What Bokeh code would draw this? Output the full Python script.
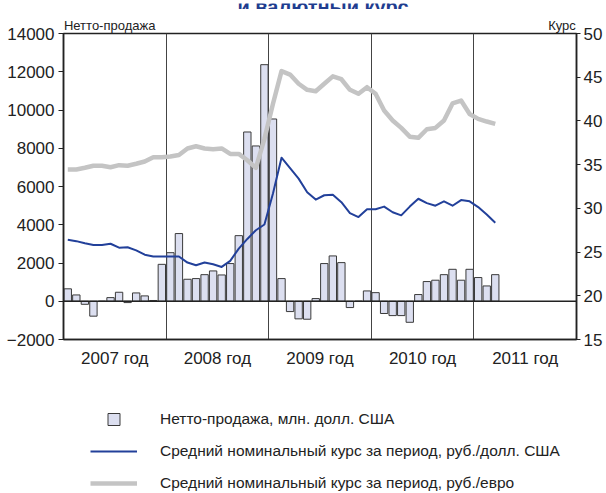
from bokeh.plotting import figure
from bokeh.layouts import column
from bokeh.models import (Range1d, LinearAxis, FixedTicker, Span,
                          Legend, LegendItem, ColumnDataSource)
from bokeh.core.properties import value
from bokeh.embed import file_html
from bokeh.resources import INLINE

# ---------------- data ----------------
title_tail = "и валютный курс"
years = ["2007 год", "2008 год", "2009 год", "2010 год", "2011 год"]

net_sales = [  # млн. долл. США, monthly from Jan 2007
    650, 330, -160, -780, 0, 190, 470, -70, 435, 280, 40, 1930,
    2540, 3540, 1150, 1185, 1390, 1585, 1375, 1970, 3430, 8850, 8120, 12370,
    9530, 1185, -540, -920, -940, 140, 1970, 2370, 2020, -330, 0, 540,
    450, -640, -750, -750, -1100, 350, 1030, 1100, 1390, 1670, 1100, 1670,
    1240, 800, 1390,
]
usd_rate = [
    26.4, 26.25, 26.0, 25.8, 25.8, 25.95, 25.5, 25.55, 25.2, 24.7, 24.5, 24.5,
    24.5, 24.5, 23.8, 23.5, 23.8, 23.6, 23.3, 24.0, 25.4, 26.5, 27.5, 28.15,
    31.7, 35.8, 34.6, 33.4, 31.85, 31.0, 31.5, 31.55, 30.7, 29.45, 29.0, 29.9,
    29.9, 30.2, 29.55, 29.2, 30.2, 31.1, 30.6, 30.3, 30.8, 30.3, 30.95, 30.8,
    30.15, 29.3, 28.35,
]
eur_rate = [
    34.45, 34.45, 34.64, 34.87, 34.87, 34.7, 34.94, 34.87, 35.1, 35.36, 35.85, 35.85,
    35.93, 36.1, 36.85, 37.1, 36.85, 36.77, 36.85, 36.23, 36.23, 35.5, 34.64, 37.95,
    41.96, 45.7, 45.3, 44.25, 43.56, 43.4, 44.25, 45.1, 44.77, 43.56, 43.1, 43.86,
    43.1, 41.2, 40.05, 39.2, 38.2, 38.07, 39.05, 39.2, 40.05, 42.0, 42.33, 40.8,
    40.24, 39.93, 39.67,
]
left_ticks = [-2000, 0, 2000, 4000, 6000, 8000, 10000, 12000, 14000]
right_ticks = [15, 20, 25, 30, 35, 40, 45, 50]

axis_captions = ["Нетто-продажа", "Курс"]
legend_labels = [
    "Нетто-продажа, млн. долл. США",
    "Средний номинальный курс за период, руб./долл. США",
    "Средний номинальный курс за период, руб./евро",
]

# ---------------- styles ----------------
FONT = "Liberation Sans"
BAR_FILL = "#dcdff0"
BAR_LINE = "#3a3a3a"
BLUE = "#22409a"
TITLE_BLUE = "#1f3d8f"
GRAY = "#c4c4c4"
DARK = "#222222"
W = 606


def bare(fig):
    fig.outline_line_color = None
    fig.grid.visible = False
    fig.background_fill_color = "white"
    fig.border_fill_color = "white"


# ---------------- title strip (only the lower edge of the title shows) ----------------
ts = figure(width=W, height=9, output_backend="svg", toolbar_location=None,
            x_axis_type=None, y_axis_type=None, min_border=0,
            x_range=Range1d(0, 1), y_range=Range1d(0, 9))
bare(ts)
ts.text(x=[0.506], y=[6], text=[title_tail], text_align="center",
        text_baseline="alphabetic", text_font=value(FONT), text_font_style="bold",
        text_font_size="20px", text_color=TITLE_BLUE)

# ---------------- main chart ----------------
n_months = len(years) * 12
x = [i + 0.5 for i in range(len(net_sales))]
src = ColumnDataSource(dict(x=x, sales=net_sales, usd=usd_rate, eur=eur_rate))

p = figure(width=W, height=381, output_backend="svg", toolbar_location=None,
           x_range=Range1d(0, n_months), y_range=Range1d(left_ticks[0], left_ticks[-1]),
           min_border_left=63, min_border_right=30, min_border_top=24,
           min_border_bottom=51)
p.extra_y_ranges = {"rate": Range1d(right_ticks[0], right_ticks[-1])}

p.background_fill_color = "white"
p.border_fill_color = "white"
p.outline_line_color = DARK
p.outline_line_width = 1.5
p.ygrid.visible = False

# year separators as x grid
p.xgrid.ticker = FixedTicker(ticks=[12 * k for k in range(1, len(years))])
p.xgrid.grid_line_color = "#444444"
p.xgrid.grid_line_width = 1

# bottom axis: year labels
bottom = p.below[0]
bottom.ticker = FixedTicker(ticks=[12 * k + 6 for k in range(len(years))])
bottom.major_label_overrides = {12 * k + 6: years[k] for k in range(len(years))}
bottom.major_tick_out = 0
bottom.major_tick_in = 0
bottom.minor_tick_out = 0
bottom.minor_tick_in = 0
bottom.major_label_standoff = 9

# left axis
leftax = p.left[0]
leftax.ticker = FixedTicker(ticks=left_ticks)
leftax.major_tick_out = 5
leftax.major_tick_in = 0
leftax.minor_tick_out = 0
leftax.minor_tick_in = 0
leftax.major_label_standoff = 4
leftax.formatter.use_scientific = False

right = LinearAxis(y_range_name="rate", ticker=FixedTicker(ticks=right_ticks))
right.major_tick_out = 4
right.major_tick_in = 0
right.minor_tick_out = 0
right.minor_tick_in = 0
right.major_label_standoff = 3
p.add_layout(right, "right")

for ax in [bottom, leftax, right]:
    ax.major_label_text_font = FONT
    ax.major_label_text_font_size = "17px"
    ax.major_label_text_color = DARK
    ax.major_tick_line_color = DARK
    ax.axis_line_color = DARK
    ax.axis_line_width = 1.5

# captions above the frame, as an axis with two labelled ticks
cap_pos = [5.4, 58.3]
top = LinearAxis(ticker=FixedTicker(ticks=cap_pos),
                 major_label_overrides={cap_pos[i]: axis_captions[i] for i in range(2)})
top.axis_line_color = None
top.major_tick_line_color = None
top.minor_tick_line_color = None
top.major_tick_out = 0
top.major_tick_in = 0
top.minor_tick_out = 0
top.minor_tick_in = 0
top.major_label_standoff = 1
top.major_label_text_font = FONT
top.major_label_text_font_size = "13px"
top.major_label_text_color = DARK
p.add_layout(top, "above")

# glyphs
p.vbar(x="x", top="sales", bottom=0, width=0.86, source=src,
       fill_color=BAR_FILL, line_color=BAR_LINE, line_width=1)
p.add_layout(Span(location=0, dimension="width", line_color=DARK, line_width=1.5))
p.line(x="x", y="eur", source=src, y_range_name="rate",
       line_color=GRAY, line_width=4.5, line_join="round")
p.line(x="x", y="usd", source=src, y_range_name="rate",
       line_color=BLUE, line_width=2, line_join="round")

# ---------------- legend panel ----------------
lg = figure(width=W, height=102, output_backend="svg", toolbar_location=None,
            x_axis_type=None, y_axis_type=None, min_border=0,
            x_range=Range1d(0, 1), y_range=Range1d(0, 1))
bare(lg)

# swatch renderers (their single point lies outside the visible ranges)
sw_bar = lg.scatter(x=[-5], y=[-5], marker="square", size=12,
                    fill_color=BAR_FILL, line_color=BAR_LINE, line_width=1)
sw_usd = lg.line(x=[-5, -4], y=[-5, -5], line_color=BLUE, line_width=2)
sw_eur = lg.line(x=[-5, -4], y=[-5, -5], line_color=GRAY, line_width=4.5)

legend = Legend(items=[LegendItem(label=legend_labels[0], renderers=[sw_bar]),
                       LegendItem(label=legend_labels[1], renderers=[sw_usd]),
                       LegendItem(label=legend_labels[2], renderers=[sw_eur])],
                location=(27, -6), orientation="vertical")
legend.border_line_color = None
legend.background_fill_alpha = 0
legend.padding = 0
legend.margin = 0
legend.spacing = 2
legend.glyph_width = 47
legend.glyph_height = 30
legend.label_standoff = 23
legend.label_text_font = FONT
legend.label_text_font_size = "15.5px"
legend.label_text_color = DARK
lg.add_layout(legend)

layout = column(ts, p, lg, spacing=0)
open("out.html", "w").write(file_html(layout, INLINE))
